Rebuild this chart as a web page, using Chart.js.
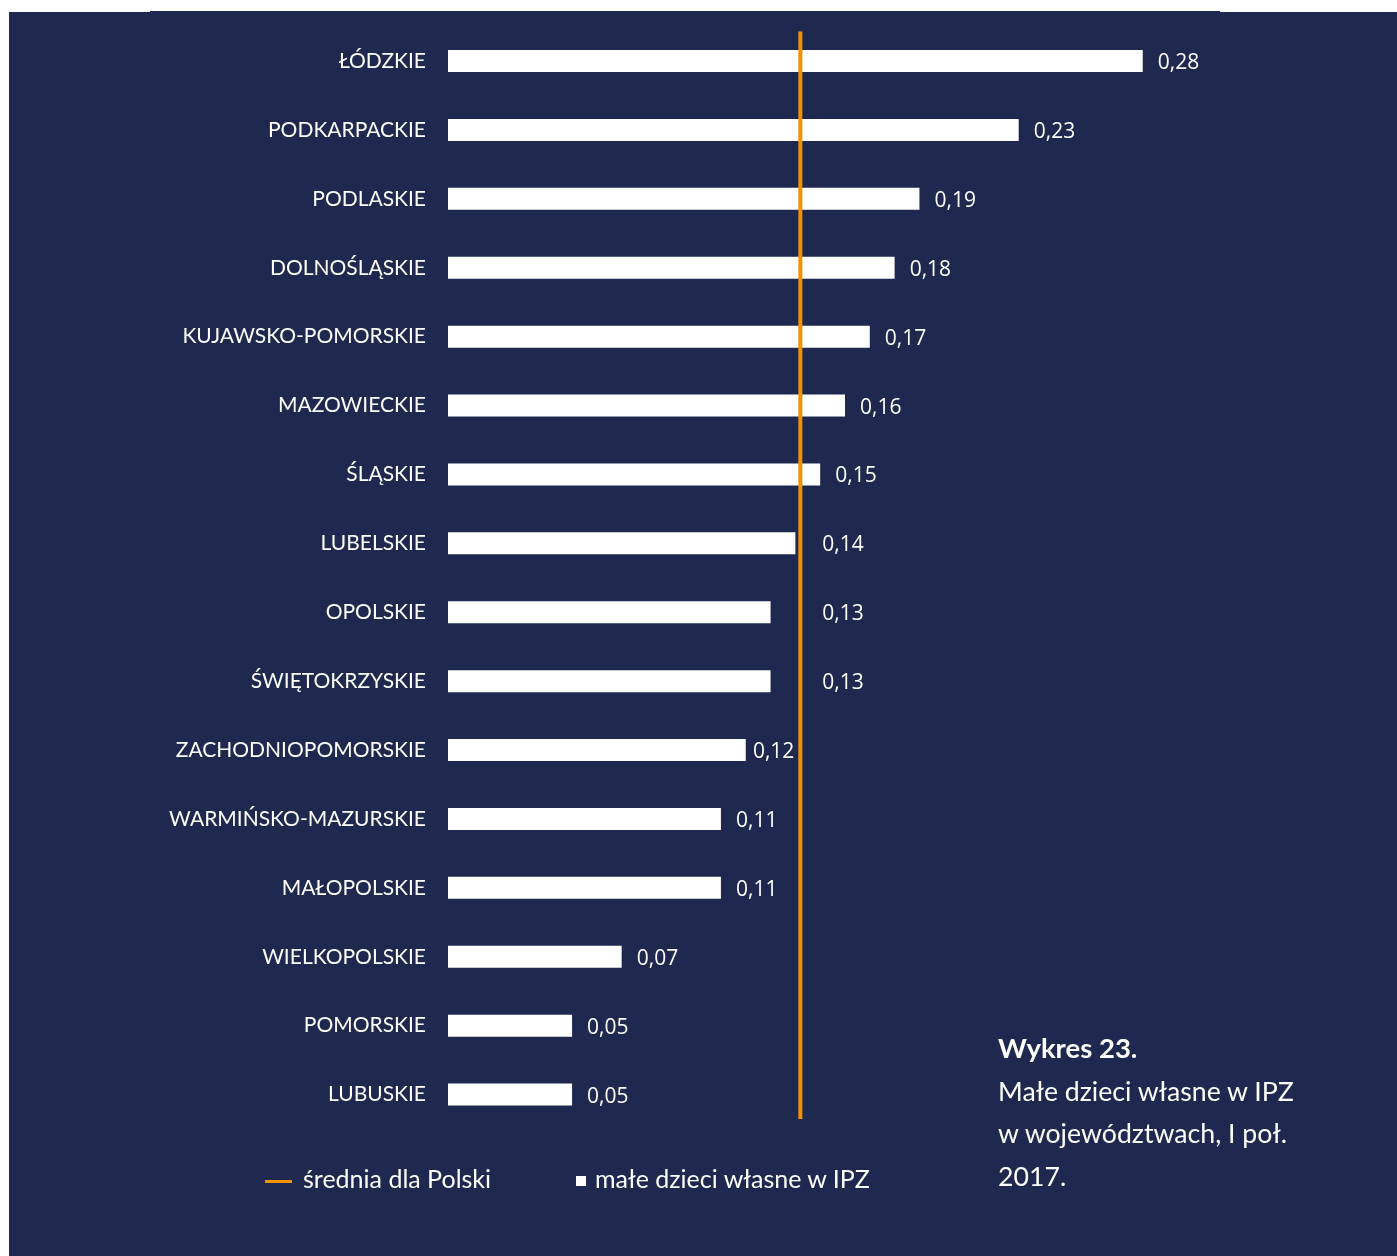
<!DOCTYPE html>
<html lang="pl">
<head>
<meta charset="utf-8">
<title>Małe dzieci własne w IPZ w województwach</title>
<script src="https://cdn.jsdelivr.net/npm/chart.js@4.4.1/dist/chart.umd.min.js"></script>
<style>
  html, body { margin: 0; padding: 0; background: #ffffff; }
  #page { position: relative; width: 1397px; height: 1256px; overflow: hidden; }
  #tlo { position: absolute; left: 9px; top: 12px; right: 0; bottom: 0; background: #1f284e; }
  #tlo-pasek { position: absolute; left: 150px; top: 11px; width: 1070px; height: 1px; background: #1f284e; }
  #wykres { position: absolute; left: 0; top: 0; width: 1397px; height: 1256px; }
  .legenda { position: absolute; top: 1162px; height: 32px; line-height: 32px; color: #ffffff;
             font-family: Lato, "Open Sans", sans-serif; font-size: 25px; white-space: nowrap; }
  .leg-linia { position: absolute; left: 265px; top: 1180px; width: 27px; height: 3px; background: #f39200; }
  .leg-kwadrat { position: absolute; left: 576px; top: 1176px; width: 10px; height: 10px; background: #ffffff; }
  #podpis { position: absolute; left: 998px; top: 1027px; color: #ffffff;
            font-family: Lato, "Open Sans", sans-serif; font-size: 26.7px; line-height: 42.5px; white-space: nowrap; }
  #podpis b { font-weight: 700; font-size: 27.5px; }
</style>
</head>
<body>
<div id="page">
  <div id="tlo"></div>
  <div id="tlo-pasek"></div>
  <div id="wykres"><canvas id="chart-ipz"></canvas></div>

  <div class="leg-linia"></div>
  <div class="legenda" style="left:303px">średnia dla Polski</div>
  <div class="leg-kwadrat"></div>
  <div class="legenda" style="left:595px">małe dzieci własne w IPZ</div>

  <div id="podpis"><b>Wykres 23.</b><br>Małe dzieci własne w IPZ<br>w województwach, I poł.<br>2017.</div>
</div>

<script>
// województwa i wartości wskaźnika
const regiony = ['ŁÓDZKIE', 'PODKARPACKIE', 'PODLASKIE', 'DOLNOŚLĄSKIE', 'KUJAWSKO-POMORSKIE',
  'MAZOWIECKIE', 'ŚLĄSKIE', 'LUBELSKIE', 'OPOLSKIE', 'ŚWIĘTOKRZYSKIE', 'ZACHODNIOPOMORSKIE',
  'WARMIŃSKO-MAZURSKIE', 'MAŁOPOLSKIE', 'WIELKOPOLSKIE', 'POMORSKIE', 'LUBUSKIE'];
const wartosci = [0.28, 0.23, 0.19, 0.18, 0.17, 0.16, 0.15, 0.14, 0.13, 0.13, 0.12, 0.11, 0.11, 0.07, 0.05, 0.05];
const sredniaPolska = 0.142;
const osX = { min: 0, max: 0.32 };

const POMARANCZ = '#f39200';

const fmt = v => v.toFixed(2).replace('.', ',');

// pionowa linia średniej + etykiety wartości przy słupkach
const sredniaPlugin = {
  id: 'srednia',
  afterDatasetsDraw(chart) {
    const { ctx, chartArea, scales } = chart;
    const xs = scales.x.getPixelForValue(sredniaPolska);
    ctx.save();
    ctx.strokeStyle = POMARANCZ;
    ctx.lineWidth = 4;
    ctx.beginPath();
    ctx.moveTo(xs, chartArea.top + 5);
    ctx.lineTo(xs, chartArea.bottom - 10);
    ctx.stroke();

    ctx.fillStyle = '#ffffff';
    ctx.font = '21px "Open Sans", sans-serif';
    ctx.textAlign = 'left';
    ctx.textBaseline = 'middle';
    chart.getDatasetMeta(0).data.forEach((bar, i) => {
      const txt = fmt(wartosci[i]);
      const w = ctx.measureText(txt).width;
      let x = bar.x + 15;
      if (bar.x < xs && xs - bar.x < 35) {
        x = xs + 22;                       // słupek tuż przed linią: etykieta za linią
      } else if (x < xs + 4 && x + w > xs - 4) {
        x = xs - 6 - w;                    // etykieta nie nachodzi na linię
      }
      ctx.fillText(txt, x, bar.y + 2);
    });
    ctx.restore();
  }
};

new Chart(document.getElementById('chart-ipz').getContext('2d'), {
  type: 'bar',
  data: {
    labels: regiony,
    datasets: [{
      label: 'małe dzieci własne w IPZ',
      data: wartosci,
      backgroundColor: '#ffffff',
      borderWidth: 0,
      categoryPercentage: 0.64,
      barPercentage: 0.5
    }]
  },
  options: {
    indexAxis: 'y',
    responsive: true,
    maintainAspectRatio: false,
    animation: false,
    layout: { padding: { left: 0, top: 22, right: 155, bottom: 127 } },
    plugins: {
      legend: { display: false },
      tooltip: { enabled: false }
    },
    scales: {
      x: { display: false, min: osX.min, max: osX.max },
      y: {
        grid: { display: false },
        border: { display: false },
        afterFit: s => { s.width = 448; },
        ticks: {
          autoSkip: false,
          color: '#ffffff',
          padding: 14,
          font: { family: 'Lato, "Open Sans", sans-serif', size: 21 }
        }
      }
    }
  },
  plugins: [sredniaPlugin]
});
</script>
</body>
</html>
